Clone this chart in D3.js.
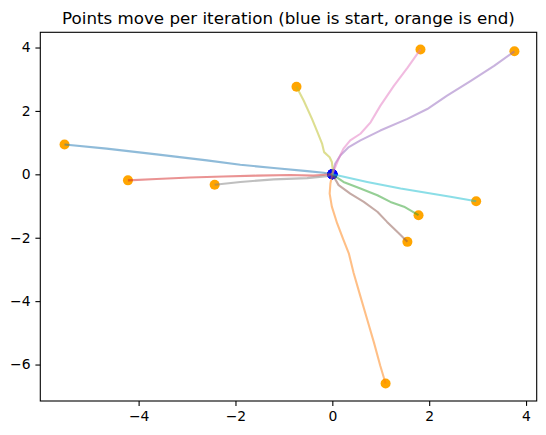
<!DOCTYPE html>
<html>
<head>
<meta charset="utf-8">
<script src="https://cdn.jsdelivr.net/npm/d3@7"></script>
<style>
  body { margin: 0; background: #fff; }
  text { font-family: "DejaVu Sans", sans-serif; fill: #000; }
</style>
</head>
<body>
<script>
// tracks, each runs start -> end as [x, y]
const track0 = [[0,0],[-0.18,0.05],[-0.52,0.10],[-1.21,0.20],[-1.90,0.30],[-2.59,0.44],[-3.63,0.63],[-4.66,0.81],[-5.53,0.94]];
const track1 = [[0,0],[-0.04,-0.29],[-0.055,-0.61],[-0.01,-1.02],[0.10,-1.55],[0.23,-2.07],[0.34,-2.49],[0.44,-3.11],[0.58,-3.85],[0.72,-4.58],[0.86,-5.31],[0.99,-6.04],[1.10,-6.6]];
const track2 = [[0,0],[0.23,-0.24],[0.58,-0.45],[0.93,-0.66],[1.2,-0.87],[1.48,-1.02],[1.78,-1.29]];
const track3 = [[0,0],[-0.39,-0.04],[-0.87,-0.02],[-1.56,-0.04],[-2.25,-0.07],[-2.94,-0.10],[-3.63,-0.15],[-4.22,-0.19]];
const track4 = [[0,0],[0.06,0.34],[0.17,0.60],[0.34,0.86],[0.58,1.07],[0.99,1.38],[1.55,1.75],[1.96,2.06],[2.37,2.48],[2.86,2.95],[3.34,3.42],[3.76,3.88]];
const track5 = [[0,0],[0.13,-0.34],[0.37,-0.61],[0.65,-0.87],[0.93,-1.18],[1.13,-1.50],[1.34,-1.81],[1.55,-2.13]];
const track6 = [[0,0],[0.06,0.23],[0.13,0.49],[0.23,0.81],[0.37,1.07],[0.58,1.28],[0.79,1.64],[0.99,2.16],[1.27,2.79],[1.55,3.36],[1.82,3.94]];
const track7 = [[0,0],[-0.11,-0.06],[-0.52,-0.12],[-1.21,-0.16],[-1.90,-0.24],[-2.43,-0.33]];
const track8 = [[0,0],[0.01,0.12],[-0.01,0.39],[-0.055,0.54],[-0.17,0.70],[-0.21,0.96],[-0.32,1.38],[-0.42,1.75],[-0.59,2.32],[-0.74,2.76]];
const track9 = [[0,0],[0.10,-0.03],[0.72,-0.24],[1.41,-0.45],[2.44,-0.71],[2.97,-0.85]];

const tracks = [track0, track1, track2, track3, track4, track5, track6, track7, track8, track9];
const xTicks = [-4, -2, 0, 2, 4];
const yTicks = [-6, -4, -2, 0, 2, 4];
const title = "Points move per iteration (blue is start, orange is end)";

const width = 546;
const height = 435;
const margin = { left: 40.3, right: 546 - 536.7, top: 32.3, bottom: 435 - 401 };

const svg = d3.select("body").append("svg")
  .attr("width", width)
  .attr("height", height);

const xScale = d3.scaleLinear()
  .domain([-6.03, 4.22])
  .range([margin.left, width - margin.right]);

const yScale = d3.scaleLinear()
  .domain([-7.15, 4.48])
  .range([height - margin.bottom, margin.top]);

const fmt = (d) => String(d).replace("-", "\u2212");

// scatter first, lines go on top like matplotlib
const plot = svg.append("g");

plot.selectAll("circle.start")
  .data(tracks)
  .enter()
  .append("circle")
  .attr("class", "start")
  .attr("cx", (d) => xScale(d[0][0]))
  .attr("cy", (d) => yScale(d[0][1]))
  .attr("r", 5)
  .attr("fill", "blue");

plot.selectAll("circle.end")
  .data(tracks)
  .enter()
  .append("circle")
  .attr("class", "end")
  .attr("cx", (d) => xScale(d[d.length - 1][0]))
  .attr("cy", (d) => yScale(d[d.length - 1][1]))
  .attr("r", 5)
  .attr("fill", "orange");

const line = d3.line()
  .x((d) => xScale(d[0]))
  .y((d) => yScale(d[1]));

plot.selectAll("path.track")
  .data(tracks)
  .enter()
  .append("path")
  .attr("class", "track")
  .attr("d", line)
  .attr("fill", "none")
  .attr("stroke", (d, i) => d3.schemeCategory10[i])
  .attr("stroke-opacity", 0.5)
  .attr("stroke-width", 2.08)
  .attr("stroke-linejoin", "round")
  .attr("stroke-linecap", "butt");

// axes
const xAxis = d3.axisBottom(xScale)
  .tickValues(xTicks)
  .tickFormat(fmt)
  .tickSize(4.9)
  .tickPadding(4.9);

const yAxis = d3.axisLeft(yScale)
  .tickValues(yTicks)
  .tickFormat(fmt)
  .tickSize(4.9)
  .tickPadding(4.9);

const gx = svg.append("g")
  .attr("transform", "translate(0," + (height - margin.bottom) + ")")
  .call(xAxis);

const gy = svg.append("g")
  .attr("transform", "translate(" + margin.left + ",0)")
  .call(yAxis);

[gx, gy].forEach((g) => {
  g.select(".domain").remove();
  g.selectAll("line").attr("stroke", "#000").attr("stroke-width", 1.1);
  g.selectAll("text")
    .attr("font-family", "DejaVu Sans, sans-serif")
    .attr("font-size", 13.9)
    .attr("fill", "#000");
});

// frame
svg.append("rect")
  .attr("x", margin.left)
  .attr("y", margin.top)
  .attr("width", width - margin.left - margin.right)
  .attr("height", height - margin.top - margin.bottom)
  .attr("fill", "none")
  .attr("stroke", "#000")
  .attr("stroke-width", 1.1);

svg.append("text")
  .attr("x", (margin.left + width - margin.right) / 2)
  .attr("y", 24)
  .attr("text-anchor", "middle")
  .attr("font-size", 16.7)
  .text(title);
</script>
</body>
</html>
